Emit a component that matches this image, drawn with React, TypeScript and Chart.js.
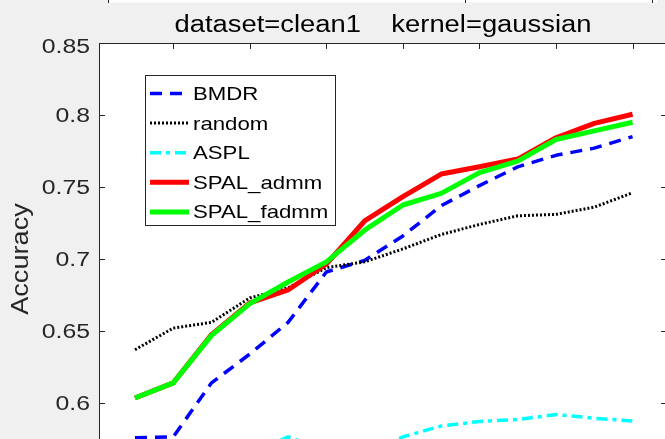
import React, { useEffect, useRef } from "react";
import { Chart, registerables } from "chart.js";

Chart.register(...registerables);

// ---- data ----
const X_VALUES = [1, 2, 3, 4, 5, 6, 7, 8, 9, 10, 11, 12, 13, 14];
const BMDR = [0.5758, 0.5765, 0.614, 0.634, 0.656, 0.691, 0.699, 0.716, 0.737, 0.751, 0.764, 0.772, 0.777, 0.785];
const RANDOM = [0.637, 0.652, 0.656, 0.673, 0.680, 0.694, 0.698, 0.707, 0.717, 0.724, 0.730, 0.731, 0.736, 0.746];
const ASPL = [0.552, 0.556, 0.56, 0.564, 0.5765, 0.567, 0.565, 0.5765, 0.584, 0.5872, 0.5885, 0.592, 0.5894, 0.5875];
const SPAL_ADMM = [0.6035, 0.614, 0.6475, 0.6695, 0.6785, 0.6965, 0.7264, 0.7433, 0.759, 0.7641, 0.7694, 0.7842, 0.7942, 0.8005];
const SPAL_FADMM = [0.6035, 0.614, 0.647, 0.669, 0.684, 0.698, 0.720, 0.7375, 0.7456, 0.760, 0.768, 0.783, 0.789, 0.795];

const SERIES_NAMES = ["BMDR", "random", "ASPL", "SPAL_admm", "SPAL_fadmm"];
const Y_TICKS = [0.6, 0.65, 0.7, 0.75, 0.8, 0.85];
const Y_TICK_LABELS = ["0.6", "0.65", "0.7", "0.75", "0.8", "0.85"];
const X_TICKS = [0, 2, 4, 6, 8, 10, 12, 14];
const TITLE = "dataset=clean1    kernel=gaussian";
const Y_LABEL = "Accuracy";

// ---- styles ----
const STYLES = [
  { color: "#0000ff", width: 3.5, dash: [12, 8] },
  { color: "#000000", width: 3, dash: [2, 2] },
  { color: "#00ffff", width: 3.5, dash: [11, 5, 4, 5] },
  { color: "#ff0000", width: 5, dash: [] as number[] },
  { color: "#00ff00", width: 5, dash: [] as number[] },
];
const SERIES = [BMDR, RANDOM, ASPL, SPAL_ADMM, SPAL_FADMM];

const FONT = '"Liberation Sans", Arial, Helvetica, sans-serif';
const AXIS_COLOR = "#262626";

function drawText(
  ctx: CanvasRenderingContext2D,
  text: string,
  x: number,
  y: number,
  size: number,
  sx: number,
  align: CanvasTextAlign,
  color: string,
  rot = 0
) {
  ctx.save();
  ctx.translate(x, y);
  if (rot) ctx.rotate(rot);
  ctx.scale(sx, 1);
  ctx.font = `${size}px ${FONT}`;
  ctx.textAlign = align;
  ctx.textBaseline = "alphabetic";
  ctx.fillStyle = color;
  ctx.fillText(text, 0, 0);
  ctx.restore();
}

const matlabPlugin = {
  id: "matlabLook",
  beforeDraw(chart: any) {
    const { ctx, chartArea: a } = chart;
    ctx.save();
    ctx.fillStyle = "#f0f0f0";
    ctx.fillRect(0, 0, chart.width, chart.height);
    ctx.fillStyle = "#ffffff";
    ctx.fillRect(a.left, a.top, a.right - a.left, a.bottom - a.top);
    // bottom sliver of the subplot above
    ctx.fillRect(108, 0, 549, 2.5);
    ctx.strokeStyle = AXIS_COLOR;
    ctx.lineWidth = 1;
    [108.5, 465.5, 652.5].forEach((px) => {
      ctx.beginPath();
      ctx.moveTo(px, 0);
      ctx.lineTo(px, 3);
      ctx.stroke();
    });
    ctx.restore();
  },
  afterDraw(chart: any) {
    const { ctx, chartArea: a } = chart;
    const xs = chart.scales.x;
    const ys = chart.scales.y;
    ctx.save();
    // axes box
    ctx.strokeStyle = AXIS_COLOR;
    ctx.lineWidth = 1;
    ctx.beginPath();
    ctx.moveTo(a.left + 0.5, a.bottom);
    ctx.lineTo(a.left + 0.5, a.top + 0.5);
    ctx.lineTo(a.right - 0.5, a.top + 0.5);
    ctx.lineTo(a.right - 0.5, a.bottom);
    ctx.stroke();
    // inward ticks
    const tl = 6;
    ctx.beginPath();
    X_TICKS.forEach((v) => {
      const px = Math.round(xs.getPixelForValue(v)) + 0.5;
      if (px <= a.left + 1 || px >= a.right - 1) return;
      ctx.moveTo(px, a.top);
      ctx.lineTo(px, a.top + tl);
    });
    Y_TICKS.forEach((v) => {
      const py = Math.round(ys.getPixelForValue(v)) + 0.5;
      ctx.moveTo(a.left, py);
      ctx.lineTo(a.left + tl, py);
      ctx.moveTo(a.right, py);
      ctx.lineTo(a.right - tl, py);
    });
    ctx.stroke();
    // y tick labels
    Y_TICKS.forEach((v, i) => {
      const py = Math.max(ys.getPixelForValue(v), a.top + 3);
      drawText(ctx, Y_TICK_LABELS[i], 90, py + 7.3, 20, 1.24, "right", AXIS_COLOR);
    });
    // title
    drawText(ctx, TITLE, (a.left + a.right) / 2, 32, 23, 1.19, "center", "#000000");
    // y label
    drawText(ctx, Y_LABEL, 28.3, 259, 23, 1.18, "center", AXIS_COLOR, -Math.PI / 2);
    // legend
    const lx0 = 145, ly0 = 75, lx1 = 336, ly1 = 226;
    ctx.fillStyle = "#ffffff";
    ctx.fillRect(lx0, ly0, lx1 - lx0, ly1 - ly0);
    ctx.strokeStyle = AXIS_COLOR;
    ctx.lineWidth = 1;
    ctx.strokeRect(lx0 + 0.5, ly0 + 0.5, lx1 - lx0 - 1, ly1 - ly0 - 1);
    SERIES_NAMES.forEach((name, i) => {
      const base = 100 + i * 29.6;
      const st = STYLES[i];
      ctx.save();
      ctx.strokeStyle = st.color;
      ctx.lineWidth = st.width;
      ctx.setLineDash(st.dash);
      ctx.lineCap = "butt";
      ctx.beginPath();
      ctx.moveTo(150, base - 6.5);
      ctx.lineTo(189, base - 6.5);
      ctx.stroke();
      ctx.restore();
      drawText(ctx, name, 193, base, 18.5, 1.2, "left", "#000000");
    });
    ctx.restore();
  },
};

export default function App() {
  const ref = useRef<HTMLCanvasElement | null>(null);
  useEffect(() => {
    if (!ref.current) return;
    const datasets = SERIES.map((vals, i) => ({
      label: SERIES_NAMES[i],
      data: X_VALUES.map((x, j) => ({ x, y: vals[j] })),
      borderColor: STYLES[i].color,
      backgroundColor: STYLES[i].color,
      borderWidth: STYLES[i].width,
      borderDash: STYLES[i].dash,
      borderCapStyle: "butt" as const,
      borderJoinStyle: "round" as const,
      pointRadius: 0,
      pointHoverRadius: 0,
      tension: 0,
      fill: false,
      order: SERIES.length - i,
      clip: 0,
    }));
    const chart = new Chart(ref.current, {
      type: "line",
      data: { datasets },
      options: {
        responsive: false,
        animation: false,
        devicePixelRatio: 1,
        layout: { padding: { left: 99, top: 43, right: 3, bottom: 0 } },
        scales: {
          x: { type: "linear", min: 0.06, max: 14.9, display: false },
          y: { type: "linear", min: 0.575, max: 0.85, display: false },
        },
        plugins: {
          legend: { display: false },
          title: { display: false },
          tooltip: { enabled: false },
        },
        events: [],
      },
      plugins: [matlabPlugin],
    });
    return () => chart.destroy();
  }, []);
  return (
    <div
      style={{
        position: "fixed",
        left: 0,
        top: 0,
        width: 665,
        height: 439,
        overflow: "hidden",
        background: "#f0f0f0",
      }}
    >
      <canvas ref={ref} width={670} height={439} style={{ display: "block" }} />
    </div>
  );
}
